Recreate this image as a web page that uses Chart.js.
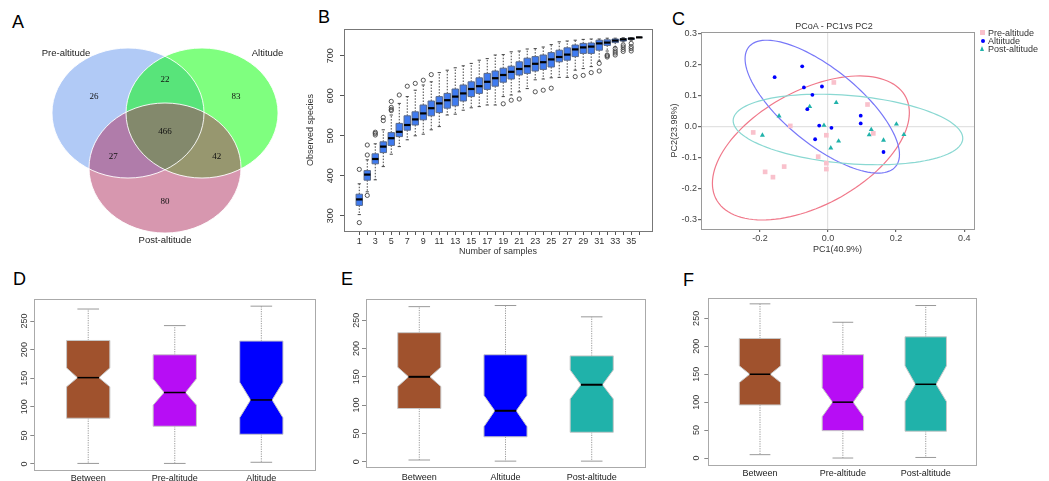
<!DOCTYPE html>
<html>
<head>
<meta charset="utf-8">
<script src="https://cdn.jsdelivr.net/npm/chart.js@4.4.1/dist/chart.umd.min.js"></script>
<style>
  body { margin: 0; background: #fff; font-family: "Liberation Sans", Arial, sans-serif; }
  #wrap { position: relative; width: 1049px; height: 481px; overflow: hidden; background: #fff; }
  canvas { position: absolute; }
  .tag { position: absolute; font-size: 18px; line-height: 1; color: #000; }
  .ttl { position: absolute; font-size: 9px; line-height: 11px; color: #333; text-align: center; width: 140px; }
  .leg { position: absolute; font-size: 9px; line-height: 8px; color: #333; white-space: nowrap; }
  .leg i { position: absolute; left: -8px; display: block; }
</style>
</head>
<body>
<div id="wrap">
  <div class="tag" style="left:12px;top:13px">A</div>
  <div class="tag" style="left:318px;top:8px">B</div>
  <div class="tag" style="left:672px;top:10px">C</div>
  <div class="tag" style="left:13px;top:270px">D</div>
  <div class="tag" style="left:341px;top:270px">E</div>
  <div class="tag" style="left:683px;top:271px">F</div>

  <canvas id="venn" width="300" height="230" style="left:0;top:30px"></canvas>
  <canvas id="rare" width="365" height="245" style="left:300px;top:20px"></canvas>
  <canvas id="pcoa" width="389" height="245" style="left:660px;top:18px"></canvas>
  <div class="ttl" style="left:764px;top:21px">PCoA - PC1vs PC2</div>
  <div class="leg" style="left:988px;top:29px"><i style="top:1px;width:5px;height:5px;background:#f9c1cc"></i>Pre-altitude</div>
  <div class="leg" style="left:988px;top:37px"><i style="top:2px;left:-7px;width:4px;height:4px;border-radius:50%;background:#0000ff"></i>Altiitude</div>
  <div class="leg" style="left:988px;top:45px"><i style="top:1px;width:0;height:0;border-left:2.5px solid transparent;border-right:2.5px solid transparent;border-bottom:5px solid #20b2aa"></i>Post-altitude</div>

  <canvas id="boxD" width="330" height="191" style="left:0;top:290px"></canvas>
  <canvas id="boxE" width="340" height="191" style="left:330px;top:290px"></canvas>
  <canvas id="boxF" width="379" height="191" style="left:670px;top:290px"></canvas>
</div>

<script>
Chart.defaults.font.family = '"Liberation Sans", Arial, sans-serif';

// ---------- A: Venn ----------
const vennNames = ['Pre-altitude', 'Altitude', 'Post-altitude'];
const vennCenterX = [-0.487, 0.487, 0];
const vennCenterY = [0.423, 0.423, -0.423];
const vennRadius = 1;
const vennRegions = [[0], [1], [2], [0, 1], [0, 2], [1, 2], [0, 1, 2]];
const vennCounts = [26, 83, 80, 22, 27, 42, 466];

// ---------- B: rarefaction boxplots ----------
const sampleNo = [1,2,3,4,5,6,7,8,9,10,11,12,13,14,15,16,17,18,19,20,21,22,23,24,25,26,27,28,29,30,31,32,33,34,35,36];
const rareLow  = [303,360,390,423,454,473,490,500,504,515,523,552,554,564,570,573,577,577,598,602,610,618,640,642,645,646,646,664,668,673,687,712,722,735,739,746];
const rareQ1   = [326,389,430,458,476,498,514,527,540,550,558,569,575,587,598,606,616,624,634,642,652,656,662,666,672,685,689,698,706,706,714,726,733,737,741,746];
const rareMed  = [341,403,442,473,494,510,527,541,556,569,581,589,598,606,617,624,635,644,652,660,667,674,680,684,691,697,703,716,721,723,731,733,738,741,743,746];
const rareQ3   = [354,413,455,485,508,531,550,560,577,587,598,606,617,627,635,645,656,662,669,674,685,694,698,702,708,714,720,727,731,732,739,740,742,743,744,746];
const rareHigh = [380,440,480,515,552,581,598,614,627,635,658,664,670,675,681,689,693,702,703,710,712,717,718,722,728,735,737,739,741,742,742,744,744,745,745,746];
const rareOut  = [[283,416],[351,452,477],[502,506,509],[538,546],[563,566,571,586],[602],[624],[631],[639],[653],
  [],[],[],[],[],[],[],[],[580],[589],[592],[],[610],[614],[619],[],[],[648],[651],[658],
  [662,681],[697,700,702],[702,707,712,718],[711,716,722,727],[712,718,723,731],[]];
const rareTicksY = [300, 400, 500, 600, 700];

// ---------- C: PCoA ----------
const preX  = [0.017,0.116,-0.111,-0.220,-0.005,0.133,-0.029,-0.005,-0.005,-0.129,-0.185,-0.162];
const preY  = [0.143,0.072,0.003,-0.018,-0.027,-0.021,-0.096,-0.117,-0.136,-0.128,-0.145,-0.162];
const altX  = [-0.076,-0.157,-0.071,-0.018,-0.046,-0.061,-0.026,0.010,-0.038,0.096,0.096,0.163];
const altY  = [0.195,0.160,0.127,0.130,0.103,0.057,0.004,-0.003,-0.040,0.036,0.011,-0.081];
const postX = [-0.144,-0.054,0.024,-0.193,-0.012,0.127,0.121,0.008,0.031,0.163,0.201,0.223];
const postY = [0.035,0.065,0.078,-0.027,0.005,-0.009,-0.026,-0.068,-0.046,-0.043,0.009,-0.025];
const ellCenterX = [-0.0505, -0.017, 0.0585];
const ellCenterY = [-0.068, 0.065, -0.0085];
const ellVarX = [0.0838, 0.0515, 0.1139];
const ellVarY = [0.0538, 0.0458, 0.0129];
const ellCov  = [0.033, -0.035, -0.0096];
const pcTicksX = [-0.2, 0, 0.2, 0.4];
const pcTicksY = [-0.3, -0.2, -0.1, 0, 0.1, 0.2, 0.3];

// ---------- D/E/F: notched boxplots ----------
const distTicksY = [0, 50, 100, 150, 200, 250];
const groupsD = ['Between', 'Pre-altitude', 'Altitude'];
const dMin = [1, 1, 3], dQ1 = [80, 66, 52], dMed = [151, 125, 112], dQ3 = [216, 191, 215], dMax = [271, 242, 276];
const dNotchLo = [135, 103, 81], dNotchHi = [168, 149, 143];
const groupsE = ['Between', 'Altitude', 'Post-altitude'];
const eMin = [3, 1, 1], eQ1 = [94, 44, 52], eMed = [150, 90, 136], eQ3 = [228, 189, 187], eMax = [274, 276, 256];
const eNotchLo = [133, 62, 111], eNotchHi = [167, 117, 162];
const groupsF = ['Between', 'Pre-altitude', 'Post-altitude'];
const fMin = [6, 0, 1], fQ1 = [95, 49, 48], fMed = [150, 100, 132], fQ3 = [214, 185, 217], fMax = [276, 243, 273];
const fNotchLo = [135, 74, 101], fNotchHi = [165, 126, 165];

const groupColor = { 'Between': '#a0522d', 'Pre-altitude': '#b70df5', 'Altitude': '#0000ff', 'Post-altitude': '#20b2aa' };

// ---------- plugins ----------
function frame(color) {
  return {
    id: 'frame',
    afterDraw(chart) {
      const { ctx, chartArea: a } = chart;
      ctx.save();
      ctx.strokeStyle = color;
      ctx.lineWidth = 1;
      ctx.strokeRect(Math.round(a.left) + 0.5, Math.round(a.top) + 0.5, Math.round(a.right - a.left), Math.round(a.bottom - a.top));
      ctx.restore();
    }
  };
}

// y tick labels turned 90 degrees, like R's default axis
function sideLabels(offset) {
  return {
    id: 'sideLabels',
    afterDraw(chart) {
      const { ctx, chartArea: a, scales: { y } } = chart;
      ctx.save();
      ctx.fillStyle = '#333';
      ctx.font = '9px "Liberation Sans", Arial, sans-serif';
      ctx.textAlign = 'center';
      ctx.textBaseline = 'middle';
      y.ticks.forEach(t => {
        ctx.save();
        ctx.translate(a.left - offset, y.getPixelForValue(t.value));
        ctx.rotate(-Math.PI / 2);
        ctx.fillText(String(t.value), 0, 0);
        ctx.restore();
      });
      ctx.restore();
    }
  };
}

function boxLayer(s) {
  return {
    id: 'boxLayer',
    beforeDatasetsDraw(chart) {
      const { ctx, scales: { x, y } } = chart;
      const hw = (x.getPixelForValue(1) - x.getPixelForValue(0)) * s.width / 2;
      const py = v => y.getPixelForValue(v);
      ctx.save();
      s.med.forEach((m, i) => {
        const cx = x.getPixelForValue(s.pos[i]);
        const top = py(s.q3[i]), bot = py(s.q1[i]), mid = py(m);
        // whiskers
        ctx.lineWidth = 1;
        ctx.strokeStyle = s.whisker;
        ctx.setLineDash(s.dash);
        ctx.beginPath();
        ctx.moveTo(cx, top); ctx.lineTo(cx, py(s.hi[i]));
        ctx.moveTo(cx, bot); ctx.lineTo(cx, py(s.lo[i]));
        ctx.stroke();
        ctx.setLineDash([]);
        ctx.strokeStyle = s.cap;
        ctx.beginPath();
        ctx.moveTo(cx - hw / 2, py(s.hi[i])); ctx.lineTo(cx + hw / 2, py(s.hi[i]));
        ctx.moveTo(cx - hw / 2, py(s.lo[i])); ctx.lineTo(cx + hw / 2, py(s.lo[i]));
        ctx.stroke();
        // box (notched or plain)
        ctx.beginPath();
        if (s.nlo) {
          const a = py(s.nhi[i]), b = py(s.nlo[i]);
          ctx.moveTo(cx - hw, top); ctx.lineTo(cx + hw, top); ctx.lineTo(cx + hw, a);
          ctx.lineTo(cx + hw / 2, mid); ctx.lineTo(cx + hw, b); ctx.lineTo(cx + hw, bot);
          ctx.lineTo(cx - hw, bot); ctx.lineTo(cx - hw, b); ctx.lineTo(cx - hw / 2, mid);
          ctx.lineTo(cx - hw, a);
        } else {
          ctx.rect(cx - hw, top, 2 * hw, bot - top);
        }
        ctx.closePath();
        ctx.fillStyle = s.colors[i % s.colors.length];
        ctx.fill();
        ctx.strokeStyle = s.border;
        ctx.stroke();
        // median
        const mw = s.nlo ? hw / 2 : hw;
        ctx.strokeStyle = '#000';
        ctx.lineWidth = s.medWidth;
        ctx.beginPath();
        ctx.moveTo(cx - mw, mid); ctx.lineTo(cx + mw, mid);
        ctx.stroke();
      });
      ctx.restore();
    }
  };
}

// ---------- A ----------
const vennFill = ['rgba(100,149,237,0.5)', 'rgba(0,255,0,0.5)', 'rgba(176,48,96,0.5)'];
const vennPlugin = {
  id: 'venn',
  beforeDatasetsDraw(chart) {
    const { ctx, scales: { x, y } } = chart;
    const rx = (x.getPixelForValue(1) - x.getPixelForValue(0)) * vennRadius;
    const ry = (y.getPixelForValue(0) - y.getPixelForValue(1)) * vennRadius;
    ctx.save();
    vennNames.forEach((n, i) => {
      ctx.beginPath();
      ctx.ellipse(x.getPixelForValue(vennCenterX[i]), y.getPixelForValue(vennCenterY[i]), rx, ry, 0, 0, 2 * Math.PI);
      ctx.fillStyle = vennFill[i];
      ctx.fill();
    });
    ctx.strokeStyle = 'rgba(255,255,255,0.9)';
    ctx.lineWidth = 1;
    vennNames.forEach((n, i) => {
      ctx.beginPath();
      ctx.ellipse(x.getPixelForValue(vennCenterX[i]), y.getPixelForValue(vennCenterY[i]), rx, ry, 0, 0, 2 * Math.PI);
      ctx.stroke();
    });
    // region counts, placed out from the common centre
    const mx = vennCenterX.reduce((p, c) => p + c, 0) / 3;
    const my = vennCenterY.reduce((p, c) => p + c, 0) / 3;
    const push = [0, 1.92, 2.8, 0];
    ctx.fillStyle = '#111';
    ctx.font = '9px "Liberation Serif", "Times New Roman", serif';
    ctx.textAlign = 'center';
    ctx.textBaseline = 'middle';
    vennRegions.forEach((r, k) => {
      const ax = r.reduce((p, i) => p + vennCenterX[i], 0) / r.length;
      const ay = r.reduce((p, i) => p + vennCenterY[i], 0) / r.length;
      const k2 = push[r.length];
      ctx.fillText(String(vennCounts[k]), x.getPixelForValue(mx + k2 * (ax - mx)), y.getPixelForValue(my + k2 * (ay - my) - (r.length === 3 ? 0.011 : 0)));
    });
    // set names
    const nameOffset = [[-0.816, 0.923], [0.862, 0.923], [0, -1.107]];
    ctx.fillStyle = '#222';
    ctx.font = '9.5px "Liberation Sans", Arial, sans-serif';
    vennNames.forEach((n, i) => {
      ctx.fillText(n, x.getPixelForValue(vennCenterX[i] + nameOffset[i][0]), y.getPixelForValue(vennCenterY[i] + nameOffset[i][1]));
    });
    ctx.restore();
  }
};

new Chart(document.getElementById('venn'), {
  type: 'scatter',
  data: { datasets: [{ data: [] }] },
  options: {
    responsive: false, animation: false, events: [],
    layout: { padding: 0 },
    plugins: { legend: { display: false }, tooltip: { enabled: false } },
    scales: {
      x: { display: false, min: -2.171, max: 1.776 },
      y: { display: false, min: -1.838, max: 1.7 }
    }
  },
  plugins: [vennPlugin]
});

// ---------- B ----------
const rareOutPts = [];
rareOut.forEach((list, i) => list.forEach(v => rareOutPts.push({ x: sampleNo[i], y: v })));

new Chart(document.getElementById('rare'), {
  type: 'scatter',
  data: {
    datasets: [{
      data: rareOutPts,
      pointStyle: 'circle', pointRadius: 2.1,
      borderColor: '#444', borderWidth: 0.9, backgroundColor: 'rgba(0,0,0,0)'
    }]
  },
  options: {
    responsive: false, animation: false, events: [],
    layout: { padding: { top: 9, right: 13, left: 0, bottom: 0 } },
    plugins: { legend: { display: false }, tooltip: { enabled: false } },
    scales: {
      x: {
        type: 'linear', min: -0.91, max: 37.6,
        afterBuildTicks: s => { s.ticks = sampleNo.map(v => ({ value: v })); },
        afterFit: s => { s.height = 34; },
        ticks: { autoSkip: false, maxRotation: 0, minRotation: 0, padding: 1, color: '#333', font: { size: 9 },
                 callback: v => (v % 2 === 1 ? v : '') },
        grid: { drawOnChartArea: false, tickLength: 4, color: '#555' },
        border: { display: false },
        title: { display: true, text: 'Number of samples', color: '#333', font: { size: 9 }, padding: { top: 0, bottom: 8 } }
      },
      y: {
        min: 262, max: 767,
        afterBuildTicks: s => { s.ticks = rareTicksY.map(v => ({ value: v })); },
        afterFit: s => { s.width = 44; },
        ticks: { display: false },
        grid: { drawOnChartArea: false, tickLength: 4, color: '#555' },
        border: { display: false },
        title: { display: true, text: 'Observed species', color: '#333', font: { size: 9 }, padding: { top: 5, bottom: 0 } }
      }
    }
  },
  plugins: [boxLayer({
    pos: sampleNo, lo: rareLow, q1: rareQ1, med: rareMed, q3: rareQ3, hi: rareHigh,
    width: 0.8, colors: ['#3f7bf0'], border: '#5a6a8a', whisker: '#444', cap: '#444',
    dash: [1.5, 1.5], medWidth: 2.2
  }), frame('#777'), sideLabels(13.5)]
});

// ---------- C ----------
const toPts = (xs, ys) => xs.map((v, i) => ({ x: v, y: ys[i] }));
const ellColor = ['#f0788a', '#7878f8', '#8ad8d2'];
const ellipsePlugin = {
  id: 'ellipses',
  beforeDatasetsDraw(chart) {
    const { ctx, scales: { x, y } } = chart;
    ctx.save();
    ctx.lineWidth = 1.2;
    ellCenterX.forEach((cx, i) => {
      const a1 = Math.sqrt(ellVarX[i]);
      const a2 = ellCov[i] / a1;
      const b2 = Math.sqrt(ellVarY[i] - a2 * a2);
      ctx.strokeStyle = ellColor[i];
      ctx.beginPath();
      for (let k = 0; k <= 120; k++) {
        const t = k / 120 * 2 * Math.PI;
        const px = x.getPixelForValue(cx + a1 * Math.cos(t));
        const py = y.getPixelForValue(ellCenterY[i] + a2 * Math.cos(t) + b2 * Math.sin(t));
        if (k === 0) ctx.moveTo(px, py); else ctx.lineTo(px, py);
      }
      ctx.closePath();
      ctx.stroke();
    });
    ctx.restore();
  }
};
const zeroLine = c => (c.tick && Math.abs(c.tick.value) < 1e-9 ? '#e2e2e2' : 'rgba(0,0,0,0)');

new Chart(document.getElementById('pcoa'), {
  type: 'scatter',
  data: {
    datasets: [
      { label: 'Pre-altitude', data: toPts(preX, preY), pointStyle: 'rect', pointRadius: 3.3, backgroundColor: '#f9c1cc', borderWidth: 0 },
      { label: 'Altiitude', data: toPts(altX, altY), pointStyle: 'circle', pointRadius: 1.9, backgroundColor: '#0000ff', borderWidth: 0 },
      { label: 'Post-altitude', data: toPts(postX, postY), pointStyle: 'triangle', pointRadius: 2.9, backgroundColor: '#20b2aa', borderWidth: 0 }
    ]
  },
  options: {
    responsive: false, animation: false, events: [],
    layout: { padding: { top: 14, right: 75, left: 0, bottom: 0 } },
    plugins: { legend: { display: false }, tooltip: { enabled: false } },
    scales: {
      x: {
        type: 'linear', min: -0.3735, max: 0.429,
        afterBuildTicks: s => { s.ticks = pcTicksX.map(v => ({ value: v })); },
        afterFit: s => { s.height = 34; },
        ticks: { padding: 1, color: '#444', font: { size: 9 }, maxRotation: 0, callback: v => v.toFixed(1) },
        grid: { color: zeroLine, tickColor: '#666', tickLength: 3, lineWidth: 1.2 },
        border: { display: false },
        title: { display: true, text: 'PC1(40.9%)', color: '#333', font: { size: 9 }, padding: { top: 0, bottom: 8 } }
      },
      y: {
        min: -0.329, max: 0.3055,
        afterBuildTicks: s => { s.ticks = pcTicksY.map(v => ({ value: v })); },
        afterFit: s => { s.width = 41; },
        ticks: { padding: 1, color: '#444', font: { size: 9 }, callback: v => v.toFixed(1) },
        grid: { color: zeroLine, tickColor: '#666', tickLength: 3, lineWidth: 1.2 },
        border: { display: false },
        title: { display: true, text: 'PC2(23.98%)', color: '#333', font: { size: 9 }, padding: { top: 9, bottom: 0 } }
      }
    }
  },
  plugins: [ellipsePlugin, frame('#9a9a9a')]
});

// ---------- D / E / F ----------
function notchedChart(id, groups, lo, q1, med, q3, hi, nlo, nhi, lay) {
  const pos = groups.map((g, i) => i);
  return new Chart(document.getElementById(id), {
    type: 'scatter',
    data: { datasets: [{ data: [] }] },
    options: {
      responsive: false, animation: false, events: [],
      layout: { padding: { top: lay.top, right: lay.right, left: 0, bottom: 0 } },
      plugins: { legend: { display: false }, tooltip: { enabled: false } },
      scales: {
        x: {
          type: 'linear', min: lay.xmin, max: lay.xmax,
          afterBuildTicks: s => { s.ticks = pos.map(v => ({ value: v })); },
          afterFit: s => { s.height = lay.xh; },
          ticks: { autoSkip: false, maxRotation: 0, padding: lay.lp, color: '#222', font: { size: 9 },
                   callback: v => groups[v] },
          grid: { display: false, drawTicks: false },
          border: { display: false }
        },
        y: {
          min: lay.ymin, max: lay.ymax,
          afterBuildTicks: s => { s.ticks = distTicksY.map(v => ({ value: v })); },
          afterFit: s => { s.width = lay.yw; },
          ticks: { display: false },
          grid: { drawOnChartArea: false, tickLength: 4, color: '#888' },
          border: { display: false }
        }
      }
    },
    plugins: [boxLayer({
      pos, lo, q1, med, q3, hi, nlo, nhi,
      width: 0.5, colors: groups.map(g => groupColor[g]), border: '#c8c8c8',
      whisker: '#999', cap: '#999', dash: [1.2, 1.2], medWidth: lay.mw
    }), frame('#aaa'), sideLabels(lay.lab)]
  });
}

notchedChart('boxD', groupsD, dMin, dQ1, dMed, dQ3, dMax, dNotchLo, dNotchHi,
  { top: 9.3, right: 15, yw: 34.3, xh: 11, xmin: -0.623, xmax: 2.62, ymin: -10.5, ymax: 288, lp: 2.8, lab: 10, mw: 1.5 });
notchedChart('boxE', groupsE, eMin, eQ1, eMed, eQ3, eMax, eNotchLo, eNotchHi,
  { top: 9.3, right: 25, yw: 36, xh: 13.3, xmin: -0.618, xmax: 2.618, ymin: -10.6, ymax: 287, lp: 4, lab: 9.5, mw: 2 });
notchedChart('boxF', groupsF, fMin, fQ1, fMed, fQ3, fMax, fNotchLo, fNotchHi,
  { top: 7.7, right: 72.3, yw: 38.3, xh: 16, xmin: -0.624, xmax: 2.615, ymin: -12.5, ymax: 287, lp: 2.8, lab: 11.5, mw: 1.5 });
</script>
</body>
</html>
